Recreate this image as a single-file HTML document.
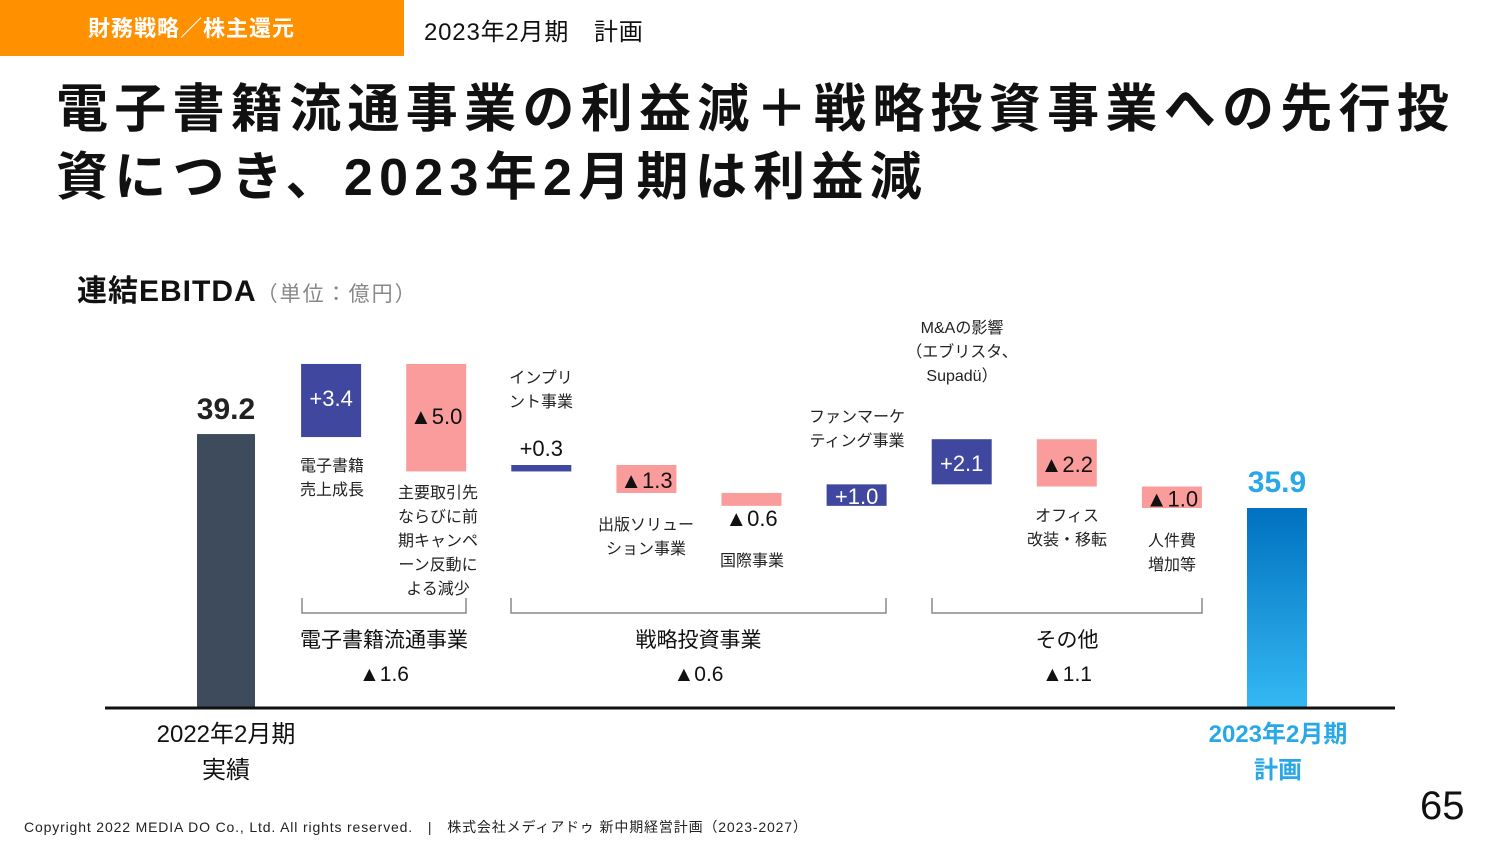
<!DOCTYPE html>
<html><head><meta charset="utf-8"><style>
body{margin:0;width:1500px;height:844px;background:#fff;overflow:hidden;font-family:"Liberation Sans","Noto Sans CJK JP",sans-serif;position:relative}
.a{position:absolute;white-space:nowrap}
</style></head><body>
<div class="a" style="left:0;top:0;width:404px;height:56px;background:#ff9000;color:#fff;font-weight:bold;font-size:22px;line-height:58px;box-sizing:border-box;padding-left:88px;letter-spacing:1px">財務戦略／株主還元</div>
<div class="a" style="left:424px;top:12px;font-size:24px;color:#111;letter-spacing:0.8px">2023年2月期　計画</div>
<div class="a" style="left:56px;top:76px;font-size:52px;font-weight:bold;line-height:68px;color:#111;letter-spacing:6.3px">電子書籍流通事業の利益減＋戦略投資事業への先行投<br>資につき、2023年2月期は利益減</div>
<div class="a" style="left:77px;top:266px;font-size:30px;font-weight:bold;color:#111;letter-spacing:1px">連結EBITDA<span style="font-size:21px;font-weight:normal;color:#888;letter-spacing:2px">（単位：億円）</span></div>
<svg class="a" style="left:0;top:0" width="1500" height="844" id="ch"></svg>
<div class="a" style="left:24px;top:817px;font-size:14px;color:#222;letter-spacing:0.85px">Copyright 2022 MEDIA DO Co., Ltd. All rights reserved.　|　株式会社メディアドゥ 新中期経営計画（2023-2027）</div>
<div class="a" style="left:1420px;top:784px;font-size:40px;color:#111">65</div>
<script>
const startValue=39.2;
const endValue=35.9;
const deltas=[3.4,-5.0,0.3,-1.3,-0.6,1.0,2.1,-2.2,-1.0];
const deltaLabels=["+3.4","▲5.0","+0.3","▲1.3","▲0.6","+1.0","+2.1","▲2.2","▲1.0"];
const groupNames=["電子書籍流通事業","戦略投資事業","その他"];
const groupTotals=["▲1.6","▲0.6","▲1.1"];
const NS="http://www.w3.org/2000/svg",svg=document.getElementById('ch');
const base=707,k=21.5;
function y(v){return 508-(v-endValue)*k;}
function xc(i){return 226+i*105.1;}
function el(t,a,txt){const e=document.createElementNS(NS,t);for(const q in a)e.setAttribute(q,a[q]);if(txt!=null)e.textContent=txt;svg.appendChild(e);return e;}
const defs=el('defs',{});defs.innerHTML='<linearGradient id="g" x1="0" y1="0" x2="0" y2="1"><stop offset="0" stop-color="#0071c0"/><stop offset="1" stop-color="#34b8f2"/></linearGradient>';
let r=el('rect',{x:xc(0)-29,y:y(startValue)-3,width:58,height:base-y(startValue)+3,fill:'#3d4b5c'});

let t=el('text',{x:xc(0),y:y(startValue)-18,'text-anchor':'middle','font-size':30,'font-weight':'bold',fill:'#222'},startValue.toFixed(1));

let cum=startValue;
deltas.forEach((d,i)=>{const a=cum,b=cum+d;cum=b;const top=y(Math.max(a,b)),h=Math.max(Math.abs(y(a)-y(b)),4);
 const x=xc(i+1);
 const bar=el('rect',{x:x-30,y:top,width:60,height:h,fill:d>=0?'#3f489e':'#fb9c9c'});
 
 let ty, col='#111';
 if(i==2){ty=top-9;} else if(i==4){ty=top+h+20;} else {ty=top+h/2+9;col=d>=0?'#fff':'#111';}
 if(i==0)ty=top+42; if(i==1)ty=top+60;
 const lt=el('text',{x:x,y:ty,'text-anchor':'middle','font-size':22,fill:col},deltaLabels[i]);
 
});
r=el('rect',{x:xc(10)-30,y:y(endValue),width:60,height:base-y(endValue),fill:'url(#g)'});

t=el('text',{x:xc(10),y:y(endValue)-16,'text-anchor':'middle','font-size':30,'font-weight':'bold',fill:'#29a8e8'},endValue.toFixed(1));

const ax=el('line',{x1:105,x2:1395,y1:708,y2:708,stroke:'#111','stroke-width':3});

const gr=[[302,466],[511,886],[932,1202]];
gr.forEach((g,i)=>{const p=el('path',{d:`M${g[0]} 598V613H${g[1]}V598`,stroke:'#888','stroke-width':1.5,fill:'none'});
 
 const c=(g[0]+g[1])/2;
 const n=el('text',{x:c,y:647,'text-anchor':'middle','font-size':21,fill:'#111'},groupNames[i]);
 
 const v=el('text',{x:c,y:681,'text-anchor':'middle','font-size':21,fill:'#111'},groupTotals[i]);
 });
const notes=[[332,471,["電子書籍","売上成長"]],[438,498,["主要取引先","ならびに前","期キャンペ","ーン反動に","よる減少"]],[541,383,["インプリ","ント事業"]],[646,530,["出版ソリュー","ション事業"]],[752,566,["国際事業"]],[857,422,["ファンマーケ","ティング事業"]],[962,333,["M&Aの影響","（エブリスタ、","Supadü）"]],[1067,521,["オフィス","改装・移転"]],[1172,546,["人件費","増加等"]]];
notes.forEach((n,i)=>{n[2].forEach((s,j)=>{const e=el('text',{x:n[0],y:n[1]+j*24,'text-anchor':'middle','font-size':16,fill:'#222'},s);
 });});
[["2022年2月期",226,742,'#111',false],["実績",226,778,'#111',false],["2023年2月期",1278,742,'#29a8e8',true],["計画",1278,778,'#29a8e8',true]].forEach(s=>{
 const e=el('text',{x:s[1],y:s[2],'text-anchor':'middle','font-size':24,fill:s[3],'font-weight':s[4]?'bold':'normal'},s[0]);
 });
</script>
</body></html>
